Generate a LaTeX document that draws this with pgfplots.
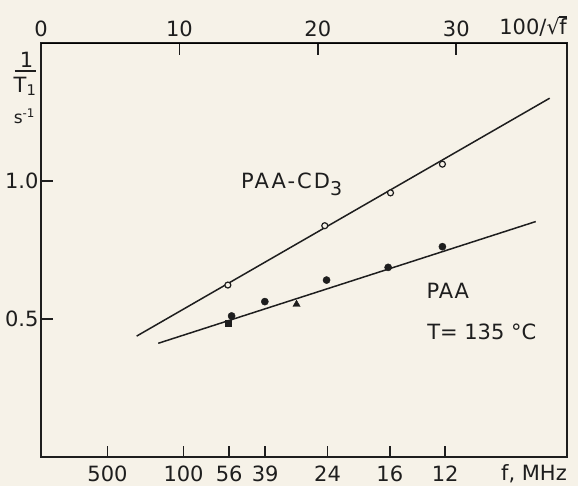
\documentclass[border=0pt]{standalone}
\usepackage{pgfplots}
\pgfplotsset{compat=1.18}
\usepackage{fontspec}
\setmainfont{DejaVu Sans}
\definecolor{ink}{HTML}{1E1E1E}
\definecolor{paper}{HTML}{F6F2E8}

\pgfplotsset{
  plotframe/.style={
    scale only axis, width=526pt, height=414pt,
    xmin=0, xmax=38, ymin=0, ymax=1.5,
    xtick style={draw=ink, line width=1.6pt},
    ytick style={draw=ink, line width=1.6pt},
    tick align=inside,
    tick label style={font=\fontsize{21}{24}\selectfont, text=ink},
  },
  tickline/.style={ink, line width=1.6pt, forget plot},
}

\begin{document}
\begin{tikzpicture}[font=\fontsize{21}{24}\selectfont]
% paper
\fill[paper] (-41pt,-29pt) rectangle (537pt,457pt);

% lower frequency scale and relaxation-rate axis
\begin{axis}[plotframe, name=ax,
  clip=false,
  major tick length=11pt,
  xtick={4.8,10.3,13.6,16.2,20.7,25.2,29.2},
  xticklabels={500,100,56,39,24,16,12},
  xtick pos=bottom, ytick pos=left,
  ytick={0.5,1.0}, yticklabels={0.5,1.0},
  xticklabel style={yshift=-5pt},
  yticklabel style={xshift=1pt},
]
  % heavy frame
  \draw[ink, line width=1.8pt] (rel axis cs:0,0) rectangle (rel axis cs:1,1);

  % inward tick marks (11-12pt long in axis units)
  \pgfplotsinvokeforeach{4.8,10.3,13.6,16.2,20.7,25.2,29.2}{
    \addplot[tickline] coordinates {(#1,0) (#1,0.040)};
  }
  \pgfplotsinvokeforeach{10,20,30}{
    \addplot[tickline] coordinates {(#1,1.5) (#1,1.4565)};
  }
  \pgfplotsinvokeforeach{0.5,1.0}{
    \addplot[tickline] coordinates {(0,#1) (0.87,#1)};
  }

  % fitted lines
  \addplot[ink, line width=1.5pt] coordinates {(6.91,0.438) (36.75,1.300)};
  \addplot[ink, line width=1.5pt] coordinates {(8.47,0.412) (35.74,0.853)};

  % PAA-CD3
  \addplot[only marks, mark=*, mark size=3pt,
    mark options={draw=ink, fill=paper, line width=1.2pt}]
    coordinates {(13.5,0.623) (20.5,0.838) (25.25,0.957) (29.0,1.061)};

  % PAA
  \addplot[only marks, mark=*, mark size=3.6pt, mark options={draw=ink, fill=ink}]
    coordinates {(13.77,0.511) (16.17,0.563) (20.63,0.641) (25.08,0.687) (29.0,0.762)};
  \addplot[only marks, mark=square*, mark size=3.2pt, mark options={draw=ink, fill=ink}]
    coordinates {(13.52,0.484)};
  \addplot[only marks, mark=triangle*, mark size=4.2pt, mark options={draw=ink, fill=ink}]
    coordinates {(18.46,0.553)};

  \node[anchor=base west, text=ink] at (axis cs:14.2,0.971)
    {\addfontfeatures{LetterSpace=10}PAA-CD\raisebox{-7pt}{\fontsize{19}{20}\selectfont 3}};
  \node[anchor=base west, text=ink] at (axis cs:27.6,0.575)
    {\addfontfeatures{LetterSpace=4}PAA};
  \node[anchor=base west, text=ink] at (axis cs:27.65,0.424) {T= 135 °C};

  \node[anchor=base east, text=ink, inner sep=0pt] at (axis cs:38.0,1.529)
    {100/√\kern-0.5pt\vbox{\hrule height 1.2pt\kern1.5pt\hbox{f}}};
  \node[anchor=base east, text=ink, inner sep=0pt] at (axis cs:38.0,-0.086) {f, MHz};

  % 1/T1 over s^-1
  \node[anchor=base, text=ink, inner sep=0pt] at (axis cs:-1.05,1.413) {1};
  \draw[ink, line width=1.4pt] (axis cs:-1.88,1.399) -- (axis cs:-0.36,1.399);
  \node[anchor=base, text=ink, inner sep=0pt] at (axis cs:-1.15,1.322) {T\textsubscript{1}};
  \node[anchor=base, text=ink, inner sep=0pt, font=\fontsize{17}{18}\selectfont]
    at (axis cs:-1.2,1.207) {s\textsuperscript{-1}};
\end{axis}

% upper 100/sqrt(f) scale
\begin{axis}[plotframe,
  axis x line*=top, hide y axis,
  major tick length=12pt,
  xtick={0,10,20,30},
  xticklabels={0,10,20,30},
  xticklabel style={yshift=3pt},
]
  \addplot[draw=none] coordinates {(0,0)};
\end{axis}

\pgfresetboundingbox
\path[use as bounding box] (-41pt,-29pt) rectangle (537pt,457pt);
\end{tikzpicture}
\end{document}
